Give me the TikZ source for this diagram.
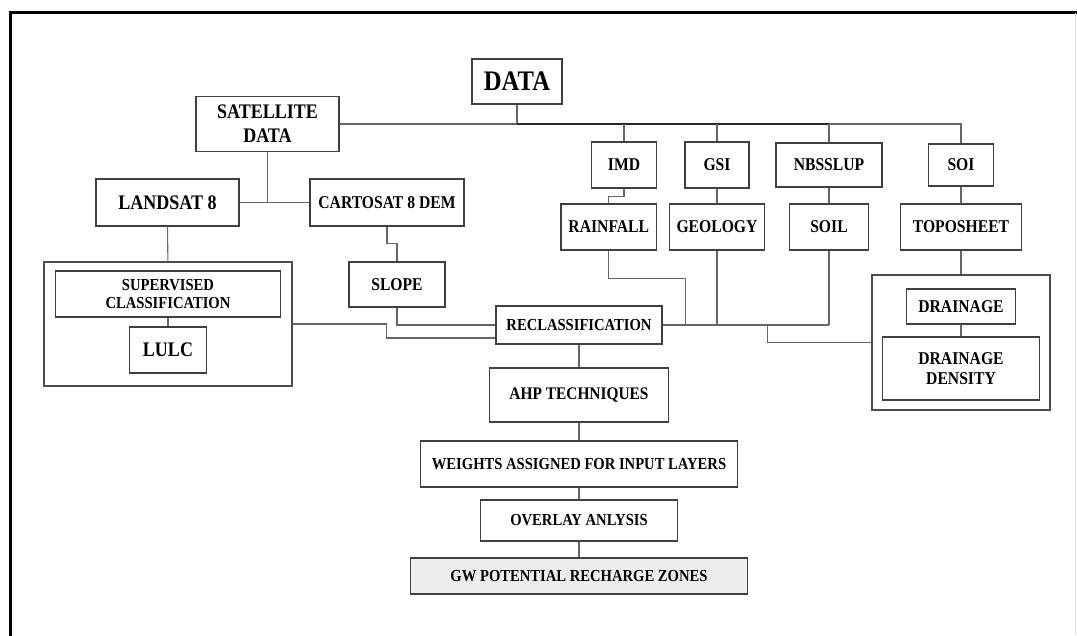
\documentclass[tikz,border=0pt]{standalone}
\usepackage{fontspec}
\setmainfont{Liberation Serif}[FakeStretch=0.87]
\usepackage{tikz}
\usetikzlibrary{positioning}

\newcommand{\fs}[2]{\bfseries\fontsize{#1}{#2}\selectfont}

\begin{document}
\begin{tikzpicture}[
    x=1pt, y=-1pt,
    block/.style={rectangle, draw=black!75, line width=1.2pt, align=center, inner sep=0pt, font=\fs{18}{21}},
    group/.style={rectangle, draw=black!70, line width=1.5pt, inner sep=0pt},
    big/.style={font=\fs{20.7}{24}},
    small/.style={font=\fs{16.8}{18.5}},
    link/.style={draw=black!60, line width=1.1pt}
]
    \useasboundingbox (0,0) rectangle (1077,635);
    % frame
    \draw[line width=3pt] (10,636) -- (10,12) -- (1077,12);
    \draw[black!12, line width=0.6pt] (1075,13) -- (1075,635);

    % top of the tree
    \node [block, font=\fs{28.3}{30}, minimum width=90, minimum height=45] (data) at (517,81.5) {DATA};
    \node [block, big, minimum width=143, minimum height=55] (sat) at (267.5,124) {SATELLITE\\DATA};
    \node [block, big, minimum width=143, minimum height=47] (landsat) at (167.5,202.5) {LANDSAT 8};
    \node [block, minimum width=154, minimum height=47] (carto) at (387,202.5) {CARTOSAT 8 DEM};
    \node [block, minimum width=64.5, minimum height=46] (imd) at (624,165) {IMD};
    \node [block, minimum width=64, minimum height=46] (gsi) at (717,165) {GSI};
    \node [block, minimum width=106, minimum height=44] (nbss) at (829,165) {NBSSLUP};
    \node [block, minimum width=64.4, minimum height=42] (soi) at (961,165) {SOI};
    \node [block, minimum width=95.5, minimum height=46] (rain) at (608.8,227) {RAINFALL};
    \node [block, minimum width=94.5, minimum height=46] (geol) at (717,227) {GEOLOGY};
    \node [block, minimum width=78.3, minimum height=46] (soil) at (829,227) {SOIL};
    \node [block, minimum width=120.3, minimum height=46] (topo) at (961,227) {TOPOSHEET};

    % left group
    \node [group, minimum width=248.3, minimum height=124] (lgrp) at (167.9,324) {};
    \node [block, small, minimum width=225.7, minimum height=46] (superv) at (168,294) {SUPERVISED\\CLASSIFICATION};
    \node [block, big, minimum width=77, minimum height=46] (lulc) at (168,350) {LULC};
    \node [block, minimum width=96, minimum height=45] (slope) at (397,284.5) {SLOPE};

    % right group
    \node [group, minimum width=178, minimum height=135] (rgrp) at (961,342.5) {};
    \node [block, minimum width=109, minimum height=35] (drain) at (961,306.5) {DRAINAGE};
    \node [block, font=\fs{18}{20}, minimum width=157, minimum height=63] (dd) at (961,368.5) {DRAINAGE\\DENSITY};

    % main chain
    \node [block, small, minimum width=166, minimum height=38] (reclass) at (579,325) {RECLASSIFICATION};
    \node [block, font=\fs{17.7}{20}, minimum width=179, minimum height=54] (ahp) at (579,395) {AHP TECHNIQUES};
    \node [block, small, minimum width=316.6, minimum height=46] (weights) at (579,464) {WEIGHTS ASSIGNED FOR INPUT LAYERS};
    \node [block, small, minimum width=197, minimum height=41] (overlay) at (579,520.5) {OVERLAY ANLYSIS};
    \node [block, small, fill=black!7, minimum width=337.5, minimum height=36] (gw) at (579,576) {GW POTENTIAL RECHARGE ZONES};

    \coordinate (bus) at (517,124);
    \coordinate (rj) at (685.6,325);
    \coordinate (dj) at (767.4,325);

    % connectors
    \draw [link] (data) -- (bus);
    \draw [link] (sat.east) -- (sat.east -| soi) -- (soi.north);
    \draw [link, draw=black!85, line width=1.4pt] (bus) -- (bus -| nbss);
    \foreach \n in {imd,gsi,nbss}
        \draw [link] (\n.north) -- (\n.north |- bus);
    \draw [link] (sat.south) -- (sat.south |- landsat.east);
    \draw [link] (landsat.east) -- (carto.west);
    \draw [link] (landsat.south) -- (lgrp.north);
    \draw [link] (superv.south) -- (lulc.north);
    \draw [link] (carto.south) -- ++(0,17) -| (slope.north);
    \draw [link] (imd.south) -- ++(0,8) -| (rain.north);
    \draw [link] (gsi.south) -- (geol.north);
    \draw [link] (nbss.south) -- (soil.north);
    \draw [link] (soi.south) -- (topo.north);
    \draw [link] (topo.south) -- (rgrp.north);
    \draw [link] (drain.south) -- (dd.north);
    \draw [link] (slope.south) |- (reclass.west);
    \draw [link] (lgrp.east) -- ++(93.7,0) |- ([yshift=-13pt]reclass.west);
    \draw [link] (reclass.east) -- (reclass.east -| soil);
    \draw [link] (rain.south) -- ++(0,28) -| (rj);
    \draw [link] (geol.south) -- (geol.south |- reclass.east);
    \draw [link] (soil.south) -- (soil.south |- reclass.east);
    \draw [link] (rgrp.west) -| (dj);
    \draw [link] (reclass) -- (ahp);
    \draw [link] (ahp) -- (weights);
    \draw [link] (weights) -- (overlay);
    \draw [link] (overlay) -- (gw);
\end{tikzpicture}
\end{document}
